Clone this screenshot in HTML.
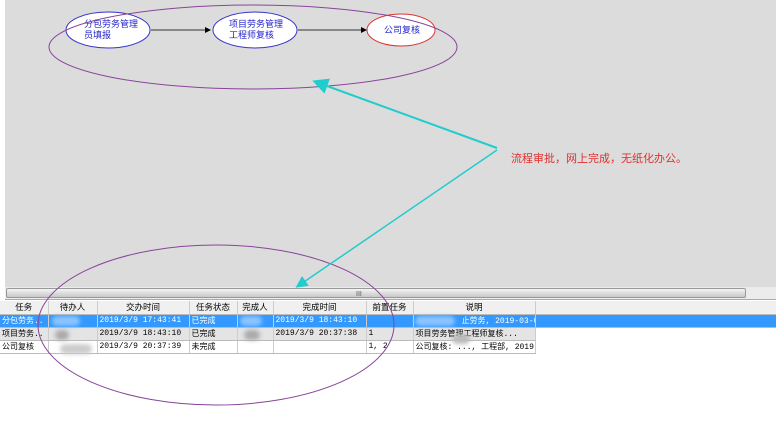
<!DOCTYPE html><html><head><meta charset="utf-8"><style>
body{margin:0;width:776px;height:426px;background:#fff;position:relative;overflow:hidden;font-family:"Liberation Sans","Noto Sans CJK SC",sans-serif;font-size:9px}
.t{position:absolute;left:0;top:301px;border-collapse:collapse;table-layout:fixed;width:776px}
.t td{height:13px;padding:0 2px;box-sizing:border-box;border-right:1px solid #ccc;border-bottom:1px solid #bbb;white-space:nowrap;overflow:hidden;font-family:"Liberation Mono","Noto Sans CJK SC",monospace;font-size:8px}
.h td{background:#f0f0f0;text-align:center;font-family:"Liberation Sans","Noto Sans CJK SC",sans-serif;font-size:8.5px}
.s td{background:#3399ff;color:#fff}
.g td{background:#e4e4e4}
.b{position:absolute;border-radius:6px;filter:blur(2px)}
</style></head><body>
<div style="position:absolute;left:5px;top:0;width:771px;height:287px;background:#dcdcdc"></div>
<div style="position:absolute;left:5px;top:287px;width:771px;height:12px;background:#ececec;border-bottom:1px solid #aaa"></div>
<div style="position:absolute;left:6px;top:288px;width:738px;height:8px;background:linear-gradient(#f4f4f4,#c8c8c8);border:1px solid #999;border-radius:2px"></div>
<table class="t">
<colgroup><col style="width:48px"><col style="width:49px"><col style="width:92px"><col style="width:48px"><col style="width:36px"><col style="width:93px"><col style="width:47px"><col style="width:122px"><col style="width:241px"></colgroup>
<tr class="h"><td>任务</td><td>待办人</td><td>交办时间</td><td>任务状态</td><td>完成人</td><td>完成时间</td><td>前置任务</td><td>说明</td><td style="border-right:none"></td></tr>
<tr class="s"><td>分包劳务..</td><td></td><td>2019/3/9 17:43:41</td><td>已完成</td><td></td><td>2019/3/9 18:43:10</td><td></td><td style="padding-left:48px">止劳务, 2019-03-09</td><td></td></tr>
<tr class="g"><td>项目劳务..</td><td></td><td>2019/3/9 18:43:10</td><td>已完成</td><td></td><td>2019/3/9 20:37:38</td><td>1</td><td>项目劳务管理工程师复核...</td><td style="background:#fff;border:none"></td></tr>
<tr><td>公司复核</td><td></td><td>2019/3/9 20:37:39</td><td>未完成</td><td></td><td></td><td>1, 2</td><td>公司复核: ..., 工程部, 2019-0...</td><td style="border:none"></td></tr>
</table>
<div class="b" style="left:52px;top:316px;width:28px;height:10px;background:#8cc4ff"></div>
<div class="b" style="left:240px;top:316px;width:22px;height:10px;background:#8cc4ff"></div>
<div class="b" style="left:415px;top:316px;width:40px;height:10px;background:#8cc4ff"></div>
<div class="b" style="left:55px;top:330px;width:14px;height:10px;background:#aaa"></div>
<div class="b" style="left:244px;top:330px;width:16px;height:10px;background:#aaa"></div>
<div class="b" style="left:60px;top:344px;width:32px;height:10px;background:#ccc"></div>
<div class="b" style="left:452px;top:334px;width:18px;height:10px;background:#bbb"></div>
<svg width="776" height="426" style="position:absolute;left:0;top:0">
<defs><marker id="a" markerWidth="6" markerHeight="6" refX="5" refY="3" orient="auto"><path d="M0,0L6,3L0,6z" fill="#000"/></marker>
<marker id="c" markerWidth="8" markerHeight="8" refX="6" refY="4" orient="auto"><path d="M0,0L8,4L0,8z" fill="#22cccc"/></marker></defs>
<ellipse cx="108" cy="30" rx="42" ry="18" fill="#fff" stroke="#3333cc"/>
<ellipse cx="255" cy="30" rx="42" ry="18" fill="#fff" stroke="#3333cc"/>
<ellipse cx="401" cy="30" rx="34" ry="16" fill="#fff" stroke="#dd3333"/>
<line x1="151" y1="30" x2="210" y2="30" stroke="#333" marker-end="url(#a)"/>
<line x1="298" y1="30" x2="366" y2="30" stroke="#333" marker-end="url(#a)"/>
<text x="84" y="27" fill="#2222cc" font-size="9">分包劳务管理</text>
<text x="84" y="38" fill="#2222cc" font-size="9">员填报</text>
<text x="229" y="27" fill="#2222cc" font-size="9">项目劳务管理</text>
<text x="229" y="38" fill="#2222cc" font-size="9">工程师复核</text>
<text x="384" y="33" fill="#2222cc" font-size="9">公司复核</text>
<ellipse cx="253" cy="47" rx="204" ry="42" fill="none" stroke="#884499"/>
<ellipse cx="216" cy="325" rx="178" ry="80" fill="none" stroke="#884499"/>
<line x1="497" y1="148" x2="316" y2="82" stroke="#22cccc" stroke-width="2" marker-end="url(#c)"/>
<line x1="497" y1="150" x2="298" y2="286" stroke="#22cccc" stroke-width="1.5" marker-end="url(#c)"/>
<text x="511" y="162" fill="#e03030" font-size="11">流程审批，网上完成，无纸化办公。</text>
<text x="356" y="296" fill="#555" font-size="7">III</text>
</svg>
</body></html>
